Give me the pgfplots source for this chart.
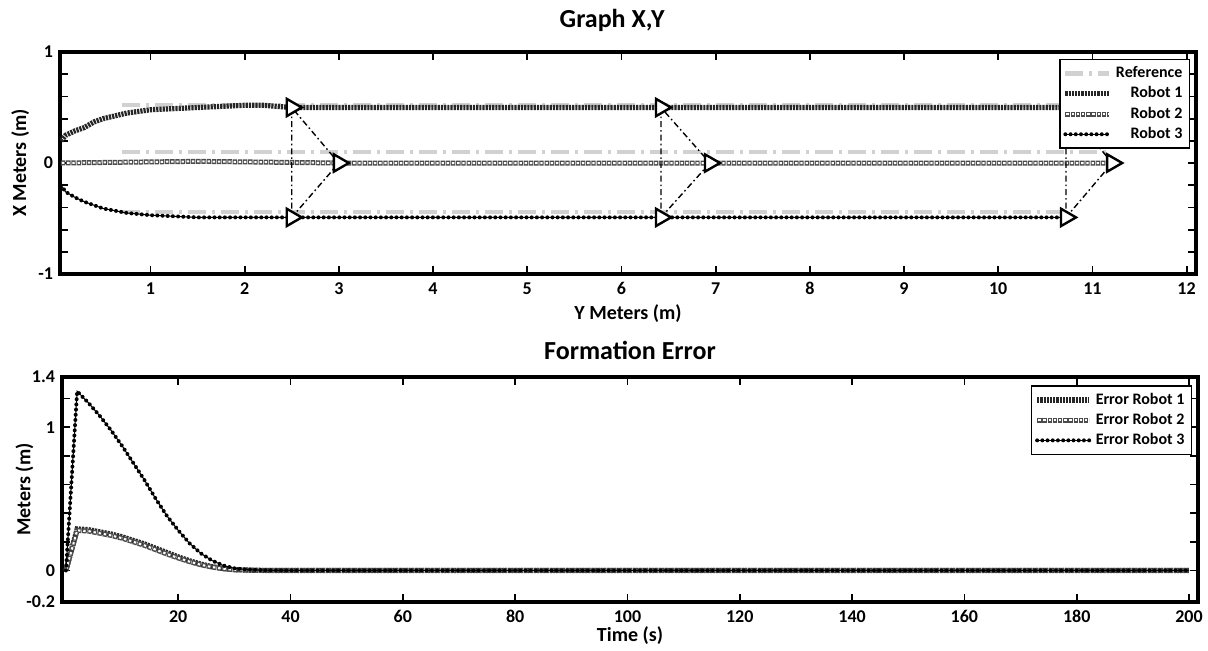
\documentclass[border=0pt]{standalone}
\usepackage{fontspec}
\setmainfont{Carlito}
\usepackage{pgfplots}
\pgfplotsset{compat=1.18}

\tikzset{
 r1/.style={draw=black!85, line width=2.6pt, dash pattern=on 1.1pt off 0.5pt},
 r2/.style={draw=black!70, line width=2.5pt, dash pattern=on 2.2pt off 0.4pt,
   postaction={draw=white, line width=1.0pt, dash pattern=on 1.2pt off 1.4pt, dash phase=2.1pt}},
 r3/.style={draw=black, line width=0.5pt, postaction={draw=black, line width=2.0pt, dash pattern=on 0pt off 2.6pt, line cap=round}},
 refl/.style={draw=black!18, line width=2.2pt, dash pattern=on 9pt off 3pt on 1.5pt off 3pt},
 form/.style={draw=black, line width=0.7pt, dash pattern=on 3pt off 1.5pt on 0.8pt off 1.5pt},
}

\pgfplotsset{
 myaxis/.style={scale only axis, width=568pt,
   axis line style={line width=2.2pt, black},
   tick style={black, line width=0.9pt}, major tick length=4pt,
   /pgf/number format/assume math mode=true,
   tick label style={font=\fontsize{9}{10}\selectfont\bfseries},
   xticklabel style={text height=6.5pt, text depth=0pt},
   label style={font=\fontsize{10}{12}\selectfont\bfseries},
   every axis title/.style={font=\fontsize{13}{15}\selectfont\bfseries},
   legend style={font=\fontsize{8}{9}\selectfont\bfseries, draw=black, line width=0.9pt, inner sep=1.5pt, row sep=-1pt},
   legend image code/.code={\draw[##1] (0pt,0pt) -- (22pt,0pt);},
 }
}

\begin{document}
\begin{tikzpicture}
\useasboundingbox (0,0) rectangle (604pt,-325pt);

% ---------------- Top: Graph X,Y ----------------
\begin{axis}[myaxis, at={(30pt,-26pt)}, anchor=north west, height=111pt,
  xmin=0.04, xmax=12.1, ymin=-1, ymax=1,
  xtick={1,2,3,4,5,6,7,8,9,10,11,12},
  ytick={-1,-0.8,-0.6,-0.4,-0.2,0,0.2,0.4,0.6,0.8,1},
  yticklabels={-1,,,,,0,,,,,1},
  xlabel={Y Meters (m)}, ylabel={X Meters (m)}, title={Graph X,Y},
  xlabel style={at={(axis description cs:0.5,-0.18)}, anchor=center},
  ylabel style={at={(axis description cs:-0.035,0.5)}, anchor=center},
  title style={at={(axis description cs:0.486,1.144)}, anchor=center},
  legend cell align=right,
  legend style={at={(0.995,0.97)}, anchor=north east},
]
\addplot[refl] coordinates {(0.7,0.52) (10.72,0.52)};
\addlegendentry{Reference}
\addplot[refl, forget plot] coordinates {(0.7,0.1) (11.2,0.1)};
\addplot[refl, forget plot] coordinates {(0.7,-0.44) (10.72,-0.44)};

\addplot[r1] coordinates {(0.05,0.2) (0.1,0.25) (0.2,0.29) (0.3,0.32) (0.4,0.37) (0.5,0.4) (0.75,0.45) (1,0.48) (1.5,0.5) (2,0.52) (2.2,0.52) (2.5,0.5) (6.42,0.5) (10.72,0.5)};
\addlegendentry{Robot 1}
\addplot[r2] coordinates {(0.05,0) (1,0.01) (1.5,0.015) (2,0.01) (3,0) (6.94,0) (11.21,0)};
\addlegendentry{Robot 2}
\addplot[r3] coordinates {(0.05,-0.2) (0.1,-0.26) (0.2,-0.31) (0.3,-0.35) (0.5,-0.41) (0.75,-0.45) (1,-0.47) (1.5,-0.49) (6.42,-0.49) (10.72,-0.49)};
\addlegendentry{Robot 3}

% formations
\addplot[form, forget plot] coordinates {(2.5,0.5) (2.5,-0.49) (3.0,0) (2.5,0.5)};
\addplot[form, forget plot] coordinates {(6.42,0.5) (6.42,-0.49) (6.94,0) (6.42,0.5)};
\addplot[form, forget plot] coordinates {(10.72,0.5) (10.72,-0.49) (11.21,0) (10.72,0.5)};
\addplot[only marks, forget plot, mark=triangle*, mark size=5pt,
  mark options={rotate=-90, fill=white, draw=black, line width=1.2pt, solid}]
  coordinates {(2.5,0.5) (3.0,0) (2.5,-0.49) (6.42,0.5) (6.94,0) (6.42,-0.49) (10.72,0.5) (11.21,0) (10.72,-0.49)};
\end{axis}

% ---------------- Bottom: Formation Error ----------------
\begin{axis}[myaxis, at={(31pt,-188.5pt)}, anchor=north west, height=112.5pt,
  xmin=-0.7, xmax=201.6, ymin=-0.22, ymax=1.35,
  xtick={20,40,60,80,100,120,140,160,180,200},
  ytick={-0.22,0,0.2,0.4,0.6,0.8,1,1.2,1.35},
  yticklabels={-0.2,0,,,,,1,,1.4},
  xlabel={Time (s)}, ylabel={Meters (m)}, title={Formation Error},
  xlabel style={at={(axis description cs:0.5,-0.149)}, anchor=center},
  ylabel style={at={(axis description cs:-0.033,0.5)}, anchor=center},
  title style={at={(axis description cs:0.5,1.12)}, anchor=center},
  legend cell align=left,
  legend style={at={(0.995,0.965)}, anchor=north east},
  legend image code/.code={\draw[#1] (0pt,0pt) -- (26pt,0pt);},
]
\addplot[r1] coordinates {(0,0) (2,0.29) (4,0.285) (6,0.27) (8,0.255) (10,0.235) (12,0.21) (14,0.185) (16,0.155) (18,0.125) (20,0.095) (22,0.068) (24,0.045) (26,0.027) (28,0.014) (30,0.006) (33,0.002) (36,0) (200,0)};
\addlegendentry{Error Robot 1}
\addplot[r2] coordinates {(0,0) (2,0.28) (4,0.275) (6,0.26) (8,0.245) (10,0.225) (12,0.2) (14,0.175) (16,0.145) (18,0.115) (20,0.087) (22,0.062) (24,0.04) (26,0.024) (28,0.012) (30,0.005) (33,0.002) (36,0) (200,0)};
\addlegendentry{Error Robot 2}
\addplot[r3] coordinates {(0,0) (2,1.25) (4,1.17) (6,1.08) (8,0.98) (10,0.87) (12,0.75) (14,0.63) (16,0.5) (18,0.38) (20,0.28) (22,0.19) (24,0.12) (26,0.07) (28,0.035) (30,0.015) (32,0.007) (35,0.002) (40,0) (200,0)};
\addlegendentry{Error Robot 3}
\end{axis}
\end{tikzpicture}
\end{document}
